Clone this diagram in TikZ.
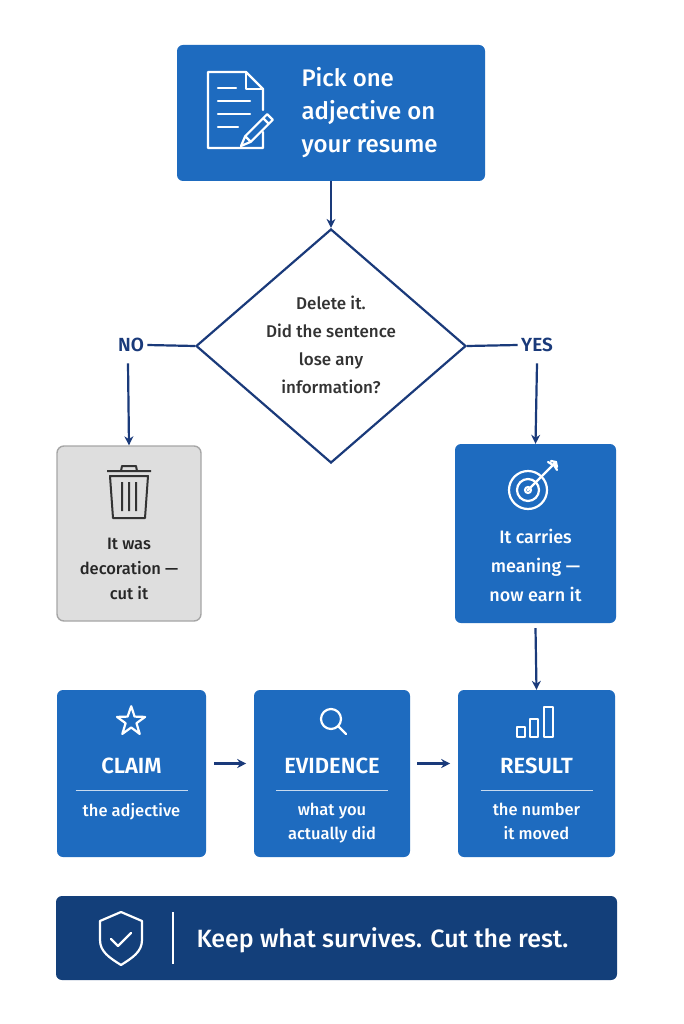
\documentclass[tikz,border=0pt]{standalone}
\usepackage{fontspec}
\setmainfont{Fira Sans}[UprightFont={* Medium},BoldFont={* SemiBold}]
\usetikzlibrary{shapes.geometric,arrows.meta}
\definecolor{bl}{HTML}{1E6BBF}
\definecolor{dk}{HTML}{1A3A7A}
\definecolor{nv}{HTML}{133F7A}
\definecolor{gr}{HTML}{DEDEDE}
\begin{document}
\begin{tikzpicture}[x=1pt,y=-1pt,
 box/.style={fill=bl,rounded corners=6pt,draw=none},
 arr/.style={draw=dk,line width=2.2pt,-{Stealth[length=9pt,width=9pt]}},
 ln/.style={draw=dk,line width=2.2pt},
 wt/.style={text=white,align=center,font=\fontsize{15}{20}\selectfont},
 hd/.style={text=white,font=\bfseries\fontsize{22}{22}\selectfont},
 ic/.style={draw=white,line width=2.2pt,line cap=round,line join=round},
 lab/.style={text=dk,font=\bfseries\fontsize{19}{18}\selectfont}]
\useasboundingbox (0,0) rectangle (683,1024);
\fill[white] (0,0) rectangle (683,1024);
% top
\path[box] (177,45) rectangle (485,181);
\coordinate (topS) at (331,181);
\node[text=white,align=left,anchor=west,font=\fontsize{24}{33}\selectfont] (toptx) at (298,113) {Pick one\\adjective on\\your resume};
\draw[ic] (263,110) -- (263,89) -- (246,72) -- (208,72) -- (208,148) -- (263,148) -- (263,132);
\draw[ic] (246,72) -- (246,89) -- (263,89);
\draw[ic] (218,88) -- (236,88) (218,101) -- (250,101) (218,114) -- (250,114) (218,127) -- (238,127);
\draw[ic] (241,146) -- (245.2,136.2) -- (267.2,114.2) -- (272.8,119.8) -- (250.8,141.8) -- cycle (245.2,136.2) -- (250.8,141.8) (263.2,118.2)--(268.8,123.8);
% diamond
\node[diamond,draw=dk,line width=2.2pt,fill=white,minimum width=270,minimum height=234,inner sep=0,aspect=1.15] (dia) at (331,346) {};
\node[text=black!80,align=center,font=\fontsize{17}{28}\selectfont] at (331,345) {Delete it.\\Did the sentence\\lose any\\information?};
\draw[arr] (topS) -- (dia.north);
\node[lab] (no) at (131,345) {NO};
\node[lab] (yes) at (537,345) {YES};
\draw[ln] (dia.west) -- (no.east);
\draw[ln] (dia.east) -- (yes.west);
% gray
\node[fill=gr,draw=gray!70,line width=1.4pt,rounded corners=7pt,minimum width=144,minimum height=175,inner sep=0] (cut) at (129,533.5) {};
\node[text=black!85,align=center,font=\fontsize{16.5}{25}\selectfont] at (129,569) {It was\\decoration —\\cut it};
\draw[black!80,line width=2pt,line join=round] (107,471)--(151,471) (121,471)--(122,466)--(136,466)--(137,471)
 (110,476)--(113,518)--(145,518)--(148,476)--cycle (122,482)--(122,511) (129,482)--(129,511) (136,482)--(136,511);
\draw[arr] (no.south) ++(-3,8) coordinate (a1) (a1) -- (cut.north);
% meaning
\node[box,minimum width=161,minimum height=179,inner sep=0] (mean) at (535.5,533.5) {};
\node[wt,font=\fontsize{18}{29}\selectfont] at (535.5,565) {It carries\\meaning —\\now earn it};
\draw[ic] (528,490) circle (19) (528,490) circle (11) (528,490) circle (3);
\draw[ic] (528,490) -- (556,462) (551,461)--(556,462)--(557,467) (548,462)--(553,465) (557,470)--(554,465);
\draw[arr] (yes.south) ++(0,8) coordinate (a2) (a2) -- (mean.north);
% bottom row
\node[box,minimum width=149,minimum height=167,inner sep=0] (claim) at (131.5,773.5) {};
\node[box,minimum width=156,minimum height=167,inner sep=0] (evid) at (332,773.5) {};
\node[box,minimum width=157,minimum height=167,inner sep=0] (res) at (536.5,773.5) {};
\draw[arr] (mean.south) ++(0,5) coordinate (a3) (a3) -- (res.north);
\draw[arr] (claim.east) ++(8,-10) coordinate (c1) (c1) -- ++(32,0) coordinate (c2);
\draw[arr] (evid.east) ++(7,-10) coordinate (e1) (e1) -- ++(33,0) coordinate (e2);
\foreach \n/\h/\s in {claim/CLAIM/{the adjective},evid/EVIDENCE/{what you\\actually did},res/RESULT/{the number\\it moved}}{
 \node[hd] at ([yshift=8]\n.center) {\h};
 \draw[white!75!bl,line width=1.4pt] ([xshift=-56,yshift=-17]\n.center) -- ([xshift=56,yshift=-17]\n.center);
 \node[wt,anchor=north,font=\fontsize{16.5}{24}\selectfont] at ([yshift=-26]\n.center) {\s};
}
\draw[ic] (131.2,706.2) -- (134.6,716.6) -- (145.1,716.9) -- (136.5,723.2) -- (139.7,733.9) -- (131.2,727.5) -- (122.3,733.9) -- (125.6,723.2) -- (117,716.9) -- (127.6,716.6) -- cycle;
\draw[ic] (331,719) circle (10) (338,726) -- (346,734);
\draw[ic] (517,727)--(517,737)--(525,737)--(525,727)--cycle (530,719)--(530,737)--(538,737)--(538,719)--cycle (544,707)--(544,737)--(553,737)--(553,707)--cycle;
% banner
\node[fill=nv,rounded corners=6pt,minimum width=561,minimum height=84,inner sep=0] (ban) at (336.5,938) {};
\draw[ic] (121,912) -- (100,921) -- (100,940) .. controls (100,952) and (110,958) .. (121,965) .. controls (132,958) and (142,952) .. (142,940) -- (142,921) -- cycle;
\draw[ic] (111,939) -- (118,946) -- (131,933);
\draw[white,line width=1.4pt] (173,912) -- (173,964);
\node[text=white,anchor=west,font=\fontsize{25}{24}\selectfont] at (193,940) {Keep what survives. Cut the rest.};
\end{tikzpicture}
\end{document}
